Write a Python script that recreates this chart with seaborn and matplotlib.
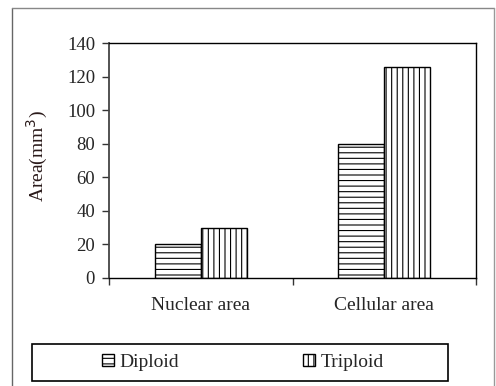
import matplotlib
matplotlib.use("Agg")
import matplotlib.pyplot as plt
import seaborn as sns
import pandas as pd
from matplotlib.lines import Line2D
from matplotlib.patches import Patch, Rectangle

categories = ["Nuclear area", "Cellular area"]
series = ["Diploid", "Triploid"]
diploid = [20, 80]
triploid = [30, 126]
yticks = [0, 20, 40, 60, 80, 100, 120, 140]

df = pd.DataFrame({
    "Category": categories * 2,
    "Ploidy": [series[0]] * 2 + [series[1]] * 2,
    "Value": diploid + triploid,
})

sns.set_style("white")
plt.rcParams["font.family"] = ["Liberation Serif", "DejaVu Serif"]
plt.rcParams["hatch.linewidth"] = 0.8
plt.rcParams["hatch.color"] = "black"

fig = plt.figure(figsize=(4.96, 3.86), dpi=100)
ax = fig.add_axes([109 / 496, 1 - 278 / 386, (476 - 109) / 496, (278 - 43) / 386])

sns.barplot(data=df, x="Category", y="Value", hue="Ploidy", order=categories,
            hue_order=series, width=0.5, gap=0,
            palette=["white", "white"], edgecolor="black", linewidth=1.0,
            legend=False, ax=ax)
hatches = ["---", "|||"]
for cont, h in zip(ax.containers, hatches):
    for bar in cont:
        bar.set_hatch(h)
        bar.set_edgecolor("black")

ax.set_xlim(-0.5, 1.5)
ax.set_ylim(0, 140)
ax.set_yticks(yticks)
ax.set_yticklabels([str(v) for v in yticks], fontsize=13.5)
ax.set_xticks([-0.5, 0.5, 1.5])
ax.set_xticklabels([])
ax.set_xticks([0, 1], minor=True)
ax.set_xticklabels(categories, minor=True, fontsize=14)
ax.tick_params(axis="x", which="minor", length=0, pad=14)
ax.tick_params(axis="both", which="major", direction="out", length=5, width=1,
               color="#333333", left=True, bottom=True)
ax.tick_params(axis="y", pad=5)
ax.set_xlabel("")
ax.set_ylabel("Area(mm$^3$)", fontsize=14, color="#2a1a1a")
ax.yaxis.set_label_coords(-0.16, 0.52)
for s in ax.spines.values():
    s.set_color("black")
    s.set_linewidth(1.0)
    s.set_visible(True)
ax.spines["left"].set_color("#444444")
ax.spines["left"].set_linewidth(1.3)

# outer frame
fig.add_artist(Line2D([12 / 496, 12 / 496], [0, 1 - 8 / 386], transform=fig.transFigure,
                      color="#666666", lw=1.0))
fig.add_artist(Line2D([12 / 496, 494 / 496], [1 - 8 / 386, 1 - 8 / 386], transform=fig.transFigure,
                      color="#888888", lw=1.0))
fig.add_artist(Line2D([494 / 496, 494 / 496], [0, 1 - 8 / 386], transform=fig.transFigure,
                      color="#999999", lw=1.0))

# legend box
fig.add_artist(Rectangle((32 / 496, 1 - 381 / 386), (448 - 32) / 496, (381 - 344) / 386,
                         transform=fig.transFigure, fill=False, edgecolor="black", lw=1.2))
handles = [Patch(facecolor="white", edgecolor="black", hatch="---"),
           Patch(facecolor="white", edgecolor="black", hatch="|||")]
fig.legend(handles, series, loc="center", bbox_to_anchor=(243 / 496, 1 - 362.5 / 386),
           ncol=2, frameon=False, fontsize=14, handlelength=0.6, handleheight=0.55,
           handletextpad=0.3, columnspacing=6.4)

fig.savefig("out.png", dpi=100)
